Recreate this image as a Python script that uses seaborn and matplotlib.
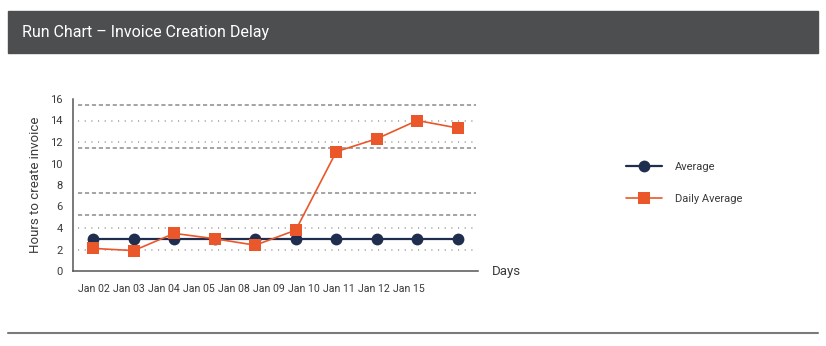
import numpy as np
import pandas as pd
import matplotlib
matplotlib.use("Agg")
import matplotlib.pyplot as plt
import seaborn as sns
from matplotlib.patches import Rectangle
from matplotlib.lines import Line2D

# ---- data ----
days = ["Jan 02", "Jan 03", "Jan 04", "Jan 05", "Jan 08",
        "Jan 09", "Jan 10", "Jan 11", "Jan 12", "Jan 15"]
average = [3, 3, 3, 3, 3, 3, 3, 3, 3, 3]
daily_average = [2.1, 1.9, 3.5, 3.0, 2.4, 3.8, 11.1, 12.3, 14.0, 13.3]
dashed_limits = [15.4, 11.4, 7.3, 5.2]
dotted_limits = [14, 12, 4, 2]
y_ticks = list(range(0, 17, 2))

title = "Run Chart \u2013 Invoice Creation Delay"
y_label = "Hours to create invoice"
x_label = "Days"

sns.set_style("white")
plt.rcParams["font.family"] = ["Roboto", "DejaVu Sans"]
plt.rcParams["lines.scale_dashes"] = False

navy = "#1f2d4e"
orange = "#e9572b"
txt = "#3a3a3a"

fig = plt.figure(figsize=(8.26, 3.46), dpi=100)
ax = fig.add_axes([73/826, 1-271/346, (478-73)/826, (271-99)/346])

df = pd.DataFrame({"day": days, "Average": average, "Daily Average": daily_average})
df["pos"] = np.arange(len(days))

for y in dashed_limits:
    ax.axhline(y, xmin=0.012, xmax=0.995, color="#8c8c8c", lw=1.1,
               ls=(0, (3, 2)), zorder=1)
for y in dotted_limits:
    ax.axhline(y, xmin=0.012, xmax=0.995, color="#9a9a9a", lw=1.1,
               ls=(0, (0.8, 4)), zorder=1)

sns.lineplot(data=df, x="pos", y="Average", ax=ax, color=navy, lw=1.6,
             marker="o", markersize=8.5, markeredgewidth=0, zorder=3,
             clip_on=False)
sns.lineplot(data=df, x="pos", y="Daily Average", ax=ax, color=orange, lw=1.2,
             marker="s", markersize=8.5, markeredgewidth=0, zorder=4,
             clip_on=False)

ax.set_xlim(-0.5, len(days) - 0.5)
ax.set_ylim(0, 16)
ax.set_yticks(y_ticks)
ax.set_yticklabels([str(t) for t in y_ticks])

# tick marks at band edges, labels packed left-to-right
ax.set_xticks(np.arange(-0.5, len(days), 1.0))
ax.set_xticklabels([])
label_step = 35 / 40.5
ax.set_xticks(np.arange(len(days)) * label_step + 0.02, minor=True)
ax.set_xticklabels(days, minor=True)
ax.tick_params(axis="x", which="major", direction="out", length=4.5,
               width=1.1, color="#555555")
ax.tick_params(axis="x", which="minor", length=0, pad=9,
               labelsize=7.6, labelcolor=txt)
ax.tick_params(axis="y", direction="out", length=4.5, width=1.1,
               color="#555555", labelsize=8, labelcolor=txt, pad=3)

for s in ["top", "right"]:
    ax.spines[s].set_visible(False)
for s in ["left", "bottom"]:
    ax.spines[s].set_color("#555555")
    ax.spines[s].set_linewidth(1.1)

ax.set_xlabel("")
ax.set_ylabel(y_label, fontsize=9.5, color=txt, labelpad=6)
ax.text(1.035, 0.0, x_label, transform=ax.transAxes, fontsize=9.5,
        color=txt, va="center", ha="left")

if ax.get_legend():
    ax.get_legend().remove()
handles = [
    Line2D([], [], color=navy, lw=1.6, marker="o", markersize=8.5,
           markeredgewidth=0),
    Line2D([], [], color=orange, lw=1.2, marker="s", markersize=8.5,
           markeredgewidth=0),
]
fig.legend(handles, ["Average", "Daily Average"], loc="upper left",
           bbox_to_anchor=(616/826, 1-152/346), frameon=False,
           fontsize=8, labelcolor=txt, handlelength=3.2, handletextpad=1.2,
           labelspacing=2.0)

# header band
fig.patches.append(Rectangle((8/826, 1-53/346), 810/826, 42/346,
                             transform=fig.transFigure, color="#4d4e50",
                             zorder=0))
fig.text(22/826, 1-32/346, title, color="white", fontsize=11.5,
         va="center", ha="left")

# bottom rule
fig.add_artist(Line2D([8/826, 818/826], [1-333/346, 1-333/346],
                      transform=fig.transFigure, color="#7a7a7a", lw=1.5))

fig.savefig("out.png", dpi=100)
